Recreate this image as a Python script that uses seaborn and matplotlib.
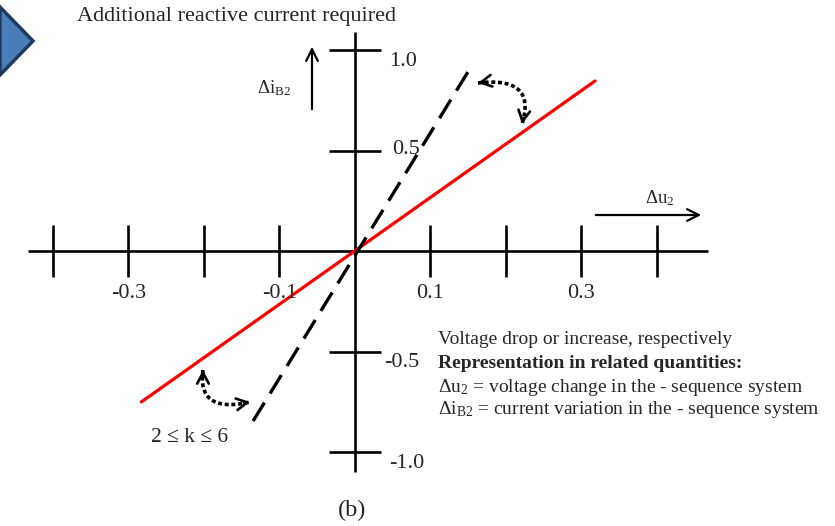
import numpy as np
import pandas as pd
import matplotlib
matplotlib.use("Agg")
import matplotlib.pyplot as plt
from matplotlib.patches import Polygon
import seaborn as sns

# --- data -----------------------------------------------------------------
x_ticks = [-0.4, -0.3, -0.2, -0.1, 0.1, 0.2, 0.3, 0.4]
x_tick_labels = {-0.3: "-0.3", -0.1: "-0.1", 0.1: "0.1", 0.3: "0.3"}
y_ticks = [1.0, 0.5, -0.5, -1.0]
y_tick_labels = ["1.0", "0.5", "-0.5", "-1.0"]

# characteristic with k ~ 2.65 (solid red) and k ~ 6 (dashed black)
red_x = [-0.283, 0.318]
red_y = [-0.751, 0.846]
dash_x = [-0.135, 0.156]
dash_y = [-0.846, 0.930]

x_axis_range = [-0.433, 0.467]
y_axis_range = [-1.10, 1.09]

notes = [
    ("Voltage drop or increase, respectively", "normal"),
    ("Representation in related quantities:", "bold"),
    (r"$\Delta\mathrm{u}_{2}$ = voltage change in the - sequence system", "normal"),
    (r"$\Delta\mathrm{i}_{\mathrm{B2}}$ = current variation in the - sequence system", "normal"),
]

# --- style ----------------------------------------------------------------
sns.set_theme(style="white")
plt.rcParams["font.family"] = ["Liberation Serif", "DejaVu Serif"]
plt.rcParams["mathtext.fontset"] = "custom"
plt.rcParams["mathtext.rm"] = "Liberation Serif"
plt.rcParams["mathtext.it"] = "Liberation Serif:italic"
plt.rcParams["mathtext.bf"] = "Liberation Serif:bold"

W, H = 835, 526
fig = plt.figure(figsize=(W / 100, H / 100), dpi=100)
ax = fig.add_axes([0, 0, 1, 1])

# pixel geometry of the drawing: origin and scale
X0, Y0, SX, SY = 355.0, 251.0, 755.0, 201.0
ax.set_xlim(-X0 / SX, (W - X0) / SX)
ax.set_ylim((Y0 - H) / SY, Y0 / SY)
ax.axis("off")


def px(x, y):
    """pixel (top-left origin) -> data coordinates"""
    return (x - X0) / SX, (Y0 - y) / SY


AX_LW = 1.9
# axes
ax.plot(x_axis_range, [0, 0], color="black", lw=AX_LW, solid_capstyle="butt")
ax.plot([0, 0], y_axis_range, color="black", lw=AX_LW, solid_capstyle="butt")

# tick marks
tick_dx = 26 / SX
tick_dy = 26 / SY
for xt in x_ticks:
    ax.plot([xt, xt], [-tick_dy, tick_dy], color="black", lw=AX_LW,
            solid_capstyle="butt")
for yt in y_ticks:
    ax.plot([-tick_dx, tick_dx], [yt, yt], color="black", lw=AX_LW,
            solid_capstyle="butt")

# tick labels
FS = 16
for xv, lab in x_tick_labels.items():
    ax.text(xv, px(0, 293)[1], lab, ha="center", va="center", fontsize=FS)
y_nudge = [-11, 1, -11, -11]
y_left = [389, 392, 384, 389]
for yv, lab, nd, xl in zip(y_ticks, y_tick_labels, y_nudge, y_left):
    ax.text(px(xl, 0)[0], yv + nd / SY, lab, ha="left", va="center",
            fontsize=FS)

# characteristic lines
df = pd.DataFrame({
    "x": red_x + dash_x,
    "y": red_y + dash_y,
    "k": ["low"] * len(red_x) + ["high"] * len(dash_x),
})
sns.lineplot(data=df[df.k == "low"], x="x", y="y", color="#ff0000",
             lw=2.3, ax=ax, estimator=None, sort=False)
sns.lineplot(data=df[df.k == "high"], x="x", y="y", color="black",
             lw=2.4, ax=ax, estimator=None, sort=False,
             dashes=False, linestyle=(0, (6.5, 3.2)))
ax.set_xlabel("")
ax.set_ylabel("")
ax.axis("off")

# direction arrows for the quantities
ax.annotate("", xy=px(312, 44), xytext=px(312, 112),
            arrowprops=dict(arrowstyle="->,head_length=0.7,head_width=0.35",
                            lw=1.6, color="black"))
ax.annotate("", xy=px(704, 215), xytext=px(593, 215),
            arrowprops=dict(arrowstyle="->,head_length=0.7,head_width=0.35",
                            lw=1.6, color="black"))
ax.text(*px(274, 88), r"$\Delta\mathrm{i}_{\mathrm{B2}}$", ha="center",
        va="center", fontsize=13.5)
ax.text(*px(660, 198), r"$\Delta\mathrm{u}_{2}$", ha="center",
        va="center", fontsize=13.5)


# curved dotted double arrows indicating the range of k
def dotted_bend(a, ctrl, b, head_a, head_b):
    t = np.linspace(0, 1, 60)[:, None]
    p0, p1, p2 = (np.array(p, float) for p in (a, ctrl, b))
    curve = (1 - t) ** 2 * p0 + 2 * (1 - t) * t * p1 + t ** 2 * p2
    cx, cy = px(curve[:, 0], curve[:, 1])
    ax.plot(cx, cy, color="black", lw=2.6, linestyle=(0, (1.1, 0.75)),
            dash_capstyle="butt")
    for tip, back in ((a, head_a), (b, head_b)):
        ax.annotate("", xy=px(*tip), xytext=px(*back),
                    arrowprops=dict(arrowstyle="->,head_length=0.65,head_width=0.35",
                                    lw=1.9, color="black",
                                    shrinkA=0, shrinkB=0))


dotted_bend((478, 83), (537, 76), (522, 124), (484, 82), (523, 118))
dotted_bend((203, 370), (197, 414), (250, 402), (203, 376), (244, 403))

ax.text(*px(190, 438), "2 ≤ k ≤ 6", ha="center", va="center", fontsize=15.5)

# title and notes
fig.text(77 / W, 1 - 17 / H, "Additional reactive current required",
         ha="left", va="center", fontsize=16)
note_y = [340, 364, 387, 410]
for (txt, wt), yy in zip(notes, note_y):
    fig.text(438 / W, 1 - yy / H, txt, ha="left", va="center",
             fontsize=14, fontweight=wt)
fig.text(352 / W, 1 - 510 / H, "(b)", ha="center", va="center", fontsize=17.5)

# navigation chevron in the corner
chev = Polygon([(0 / W, 1 - 7 / H), (33 / W, 1 - 41 / H), (0 / W, 1 - 75 / H)],
               closed=True, transform=fig.transFigure, facecolor="#4a7ebb",
               edgecolor="#1f3a5f", lw=2.5, joinstyle="miter")
fig.patches.append(chev)

fig.savefig("out.png", dpi=100)
